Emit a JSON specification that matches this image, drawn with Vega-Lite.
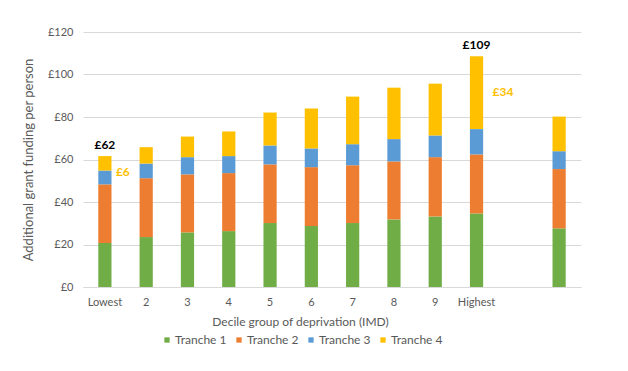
{
  "$schema": "https://vega.github.io/schema/vega-lite/v6.json",
  "width": 498,
  "height": 255,
  "autosize": {"type": "none"},
  "padding": {"left": 83, "top": 32, "right": 47, "bottom": 84},
  "background": "white",
  "config": {
    "font": "Lato",
    "view": {"stroke": null},
    "axis": {"labelColor": "#595959", "titleColor": "#595959", "labelFontSize": 11, "titleFontSize": 12, "titleFontWeight": "normal", "labelFont": "Lato", "titleFont": "Lato"}
  },
  "datasets": {
    "bars": [
      {"cat": "Lowest", "tranche": "Tranche 1", "value": 20.7},
      {"cat": "Lowest", "tranche": "Tranche 2", "value": 27.6},
      {"cat": "Lowest", "tranche": "Tranche 3", "value": 6.5},
      {"cat": "Lowest", "tranche": "Tranche 4", "value": 6.8},
      {"cat": "2", "tranche": "Tranche 1", "value": 23.5},
      {"cat": "2", "tranche": "Tranche 2", "value": 27.7},
      {"cat": "2", "tranche": "Tranche 3", "value": 6.9},
      {"cat": "2", "tranche": "Tranche 4", "value": 7.7},
      {"cat": "3", "tranche": "Tranche 1", "value": 25.7},
      {"cat": "3", "tranche": "Tranche 2", "value": 27.3},
      {"cat": "3", "tranche": "Tranche 3", "value": 8.1},
      {"cat": "3", "tranche": "Tranche 4", "value": 9.7},
      {"cat": "4", "tranche": "Tranche 1", "value": 26.3},
      {"cat": "4", "tranche": "Tranche 2", "value": 27.3},
      {"cat": "4", "tranche": "Tranche 3", "value": 8.0},
      {"cat": "4", "tranche": "Tranche 4", "value": 11.6},
      {"cat": "5", "tranche": "Tranche 1", "value": 30.1},
      {"cat": "5", "tranche": "Tranche 2", "value": 27.6},
      {"cat": "5", "tranche": "Tranche 3", "value": 8.9},
      {"cat": "5", "tranche": "Tranche 4", "value": 15.5},
      {"cat": "6", "tranche": "Tranche 1", "value": 28.7},
      {"cat": "6", "tranche": "Tranche 2", "value": 27.7},
      {"cat": "6", "tranche": "Tranche 3", "value": 8.8},
      {"cat": "6", "tranche": "Tranche 4", "value": 18.8},
      {"cat": "7", "tranche": "Tranche 1", "value": 30.1},
      {"cat": "7", "tranche": "Tranche 2", "value": 27.2},
      {"cat": "7", "tranche": "Tranche 3", "value": 9.9},
      {"cat": "7", "tranche": "Tranche 4", "value": 22.4},
      {"cat": "8", "tranche": "Tranche 1", "value": 31.8},
      {"cat": "8", "tranche": "Tranche 2", "value": 27.3},
      {"cat": "8", "tranche": "Tranche 3", "value": 10.5},
      {"cat": "8", "tranche": "Tranche 4", "value": 24.2},
      {"cat": "9", "tranche": "Tranche 1", "value": 33.2},
      {"cat": "9", "tranche": "Tranche 2", "value": 27.9},
      {"cat": "9", "tranche": "Tranche 3", "value": 10.2},
      {"cat": "9", "tranche": "Tranche 4", "value": 24.4},
      {"cat": "Highest", "tranche": "Tranche 1", "value": 34.6},
      {"cat": "Highest", "tranche": "Tranche 2", "value": 27.8},
      {"cat": "Highest", "tranche": "Tranche 3", "value": 11.9},
      {"cat": "Highest", "tranche": "Tranche 4", "value": 34.3},
      {"cat": "All", "tranche": "Tranche 1", "value": 27.6},
      {"cat": "All", "tranche": "Tranche 2", "value": 27.9},
      {"cat": "All", "tranche": "Tranche 3", "value": 8.4},
      {"cat": "All", "tranche": "Tranche 4", "value": 16.3}
    ],
    "labels": [
      {"cat": "Lowest", "pos": 61.6, "label": "£62", "kind": "total"},
      {"cat": "Highest", "pos": 108.6, "label": "£109", "kind": "total"},
      {"cat": "Lowest", "pos": 54.2, "label": "£6", "kind": "low"},
      {"cat": "Highest", "pos": 91.6, "label": "£34", "kind": "high"}
    ]
  },
  "layer": [
    {
      "data": {"name": "bars"},
      "mark": {"type": "bar"},
      "encoding": {
        "x": {
          "field": "cat", "type": "nominal",
          "scale": {"domain": ["Lowest","2","3","4","5","6","7","8","9","Highest","gap","All"], "paddingInner": 0.68, "paddingOuter": 0.37},
          "axis": {
            "title": "Decile group of deprivation (IMD)",
            "labelAngle": 0, "ticks": false, "tickSize": 0, "labelPadding": 9,
            "labelExpr": "datum.value == 'gap' || datum.value == 'All' ? '' : datum.value",
            "domainColor": "#d9d9d9", "titleX": 217, "titlePadding": 9
          }
        },
        "y": {
          "field": "value", "type": "quantitative", "stack": "zero",
          "scale": {"domain": [0, 120]},
          "axis": {
            "title": "Additional grant funding per person",
            "titleFontSize": 13,
            "values": [0, 20, 40, 60, 80, 100, 120],
            "labelExpr": "'£' + datum.value",
            "domain": false, "ticks": false, "tickSize": 0, "labelPadding": 10,
            "gridColor": "#d9d9d9", "titlePadding": 12
          }
        },
        "order": {"field": "tranche", "type": "ordinal", "sort": "ascending"},
        "color": {
          "field": "tranche", "type": "nominal",
          "scale": {"domain": ["Tranche 1","Tranche 2","Tranche 3","Tranche 4"], "range": ["#70AD47","#ED7D31","#5B9BD5","#FFC000"]},
          "legend": {
            "title": null, "orient": "none", "direction": "horizontal",
            "legendX": 78, "legendY": 302,
            "symbolType": "square", "symbolSize": 28, "symbolStrokeWidth": 0,
            "labelFontSize": 12, "labelColor": "#595959", "labelFont": "Lato",
            "labelOffset": 2, "columnPadding": 6
          }
        }
      }
    },
    {
      "data": {"name": "labels"},
      "transform": [{"filter": "datum.kind == 'total'"}],
      "mark": {"type": "text", "fontWeight": "bold", "fontSize": 12, "color": "#000000", "baseline": "bottom", "dy": -4},
      "encoding": {
        "x": {"field": "cat", "type": "nominal"},
        "y": {"field": "pos", "type": "quantitative"},
        "text": {"field": "label"}
      }
    },
    {
      "data": {"name": "labels"},
      "transform": [{"filter": "datum.kind == 'low'"}],
      "mark": {"type": "text", "fontWeight": "bold", "fontSize": 12, "color": "#FFC000", "align": "left", "baseline": "middle", "dx": 11},
      "encoding": {
        "x": {"field": "cat", "type": "nominal"},
        "y": {"field": "pos", "type": "quantitative"},
        "text": {"field": "label"}
      }
    },
    {
      "data": {"name": "labels"},
      "transform": [{"filter": "datum.kind == 'high'"}],
      "mark": {"type": "text", "fontWeight": "bold", "fontSize": 12, "color": "#FFC000", "align": "left", "baseline": "middle", "dx": 16},
      "encoding": {
        "x": {"field": "cat", "type": "nominal"},
        "y": {"field": "pos", "type": "quantitative"},
        "text": {"field": "label"}
      }
    }
  ]
}
